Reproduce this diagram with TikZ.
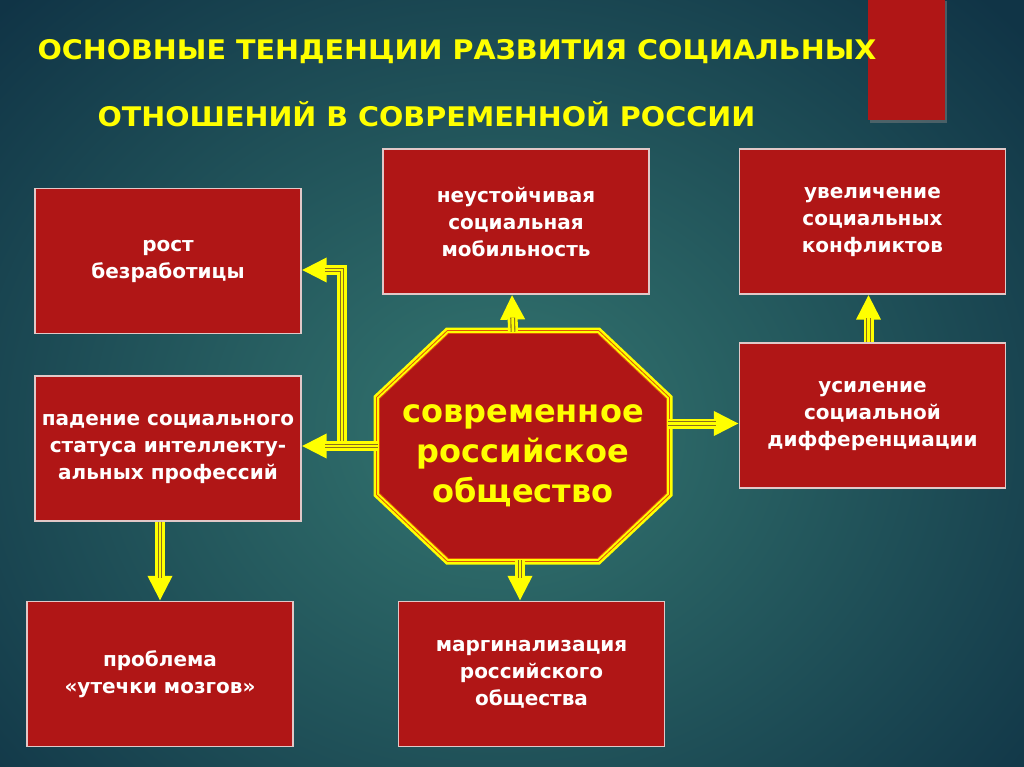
\documentclass[tikz,border=0pt]{standalone}
\usepackage{fontspec}
\setmainfont{DejaVu Sans}
\newfontfamily\titlefont{DejaVu Sans}[FakeStretch=1.06]
\usetikzlibrary{arrows.meta, positioning, calc, shadows}
\definecolor{boxred}{RGB}{176,22,22}
\definecolor{boxline}{RGB}{225,200,200}
\definecolor{bgmid}{RGB}{52,118,112}
\definecolor{bgedge}{RGB}{16,52,70}
\definecolor{linegap}{RGB}{140,110,30}
\definecolor{hiyellow}{RGB}{255,255,0}

\begin{document}
\begin{tikzpicture}[x=1pt, y=-1pt,
    tbox/.style={draw=boxline, line width=1.2pt, fill=boxred, minimum width=266pt,
                 minimum height=145pt, align=center, text=white, inner sep=0pt,
                 font=\bfseries\fontsize{20}{27}\selectfont},
    trip/.style={draw=linegap, line width=1.1pt, double=hiyellow, double distance=2.6pt,
                 shorten >=23pt,
                 preaction={draw=hiyellow, line width=10pt, shorten >=0pt,
                            -{Triangle[length=25pt, width=23pt]}}},
    octa/.style={fill=boxred, draw=orange!60!boxred, line width=1pt, double=hiyellow,
                 double distance=1.8pt, preaction={draw=hiyellow, line width=9pt}}]
  \useasboundingbox (0,0) rectangle (1024,767);
  % background
  \begin{scope}
    \clip (0,0) rectangle (1024,767);
    \shade[inner color=bgmid, outer color=bgedge] (-200,-170) rectangle (1200,1030);
  \end{scope}
  \fill[boxred, drop shadow={shadow xshift=2pt, shadow yshift=-3pt, opacity=0.5}]
        (868,-2) rectangle (945,120);

  % title
  \node[font=\titlefont\bfseries\fontsize{27}{32}\selectfont, text=hiyellow, anchor=west]
        (title1) at (34,52) {ОСНОВНЫЕ ТЕНДЕНЦИИ РАЗВИТИЯ СОЦИАЛЬНЫХ};
  \node[font=\titlefont\bfseries\fontsize{27}{32}\selectfont, text=hiyellow, anchor=west]
        (title2) at (94,114) {ОТНОШЕНИЙ В СОВРЕМЕННОЙ РОССИИ};

  % octagon
  \draw[octa] (448,332) -- (598,332) -- (668,398) -- (668,494) -- (598,560)
        -- (448,560) -- (378,494) -- (378,398) -- cycle;
  \node[minimum width=290pt, minimum height=228pt, inner sep=0pt, align=center,
        text=hiyellow, font=\bfseries\fontsize{32}{40}\selectfont] (soc) at (523,446)
        {\rule{0pt}{38pt}современное\\российское\\общество};

  % boxes
  \node[tbox] (rost) at (168,261) {рост\\безработицы};
  \node[tbox] (status) at (168,448.5) {падение социального\\статуса интеллекту-\\альных профессий};
  \node[tbox] (mob) at (516,221.5) {неустойчивая\\социальная\\мобильность};
  \node[tbox] (konfl) at (872.5,221.5) {увеличение\\социальных\\конфликтов};
  \node[tbox] (diff) at (872.5,415.5) {усиление\\социальной\\дифференциации};
  \node[tbox] (mozg) at (160,674) {проблема\\«утечки мозгов»};
  \node[tbox] (marg) at (531.5,674) {маргинализация\\российского\\общества};

  % connectors
  \coordinate (jn) at (342,446);
  \draw[trip] (jn) |- ($(rost.east)+(0,9)$);
  \draw[trip] (soc.west) -- (soc.west -| status.east);
  \draw[trip] ($(soc.north)+(-10,0)$) -- ($(mob.south)+(-4,0)$);
  \draw[trip] ($(diff.west -| soc.east)+(0,8)$) -- ($(diff.west)+(0,8)$);
  \draw[trip] ($(diff.north)+(-4,0)$) -- ($(konfl.south)+(-4,0)$);
  \draw[trip] (status.south -| mozg.north) -- (mozg.north);
  \draw[trip] ($(soc.south)+(-3,0)$) -- ($(marg.north)+(-11.5,0)$);
\end{tikzpicture}
\end{document}
